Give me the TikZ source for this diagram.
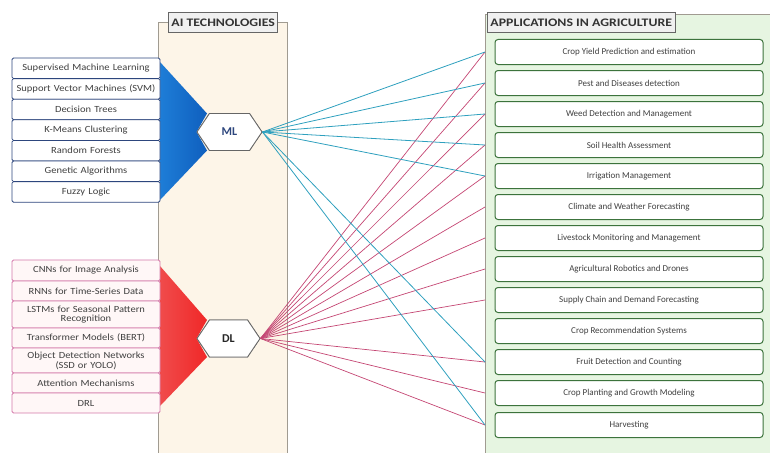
\documentclass[tikz,border=0pt]{standalone}
\usepackage{fontspec}
\setmainfont{Carlito}
\newfontfamily\wideface[FakeStretch=1.12]{Carlito}
\newfontfamily\tabface[FakeStretch=1.2]{Carlito}
\usepackage{tikz}
\usetikzlibrary{positioning,shapes.symbols}

\definecolor{mlnavy}{RGB}{45,70,125}
\definecolor{dlpink}{RGB}{212,120,170}
\definecolor{mlline}{RGB}{46,160,190}
\definecolor{dlline}{RGB}{196,70,115}
\definecolor{aibeige}{RGB}{253,245,232}
\definecolor{agrgreen}{RGB}{230,245,225}
\definecolor{boxgreen}{RGB}{60,115,60}
\definecolor{panelgray}{RGB}{160,155,145}
\definecolor{mlfunnel}{RGB}{30,125,215}
\definecolor{mlfunneldark}{RGB}{15,95,190}
\definecolor{dlfunnel}{RGB}{240,75,75}
\definecolor{dlfunneldark}{RGB}{240,40,40}

\tikzset{
  mlbox/.style={draw=mlnavy, fill=white, rounded corners=1.5pt, line width=0.8pt, minimum width=148pt, text width=147pt, align=center, inner sep=0.5pt, outer sep=0pt, font=\wideface\fontsize{9.4}{9.8}\selectfont, text=black!75},
  dlbox/.style={draw=dlpink, fill=pink!12, rounded corners=1.5pt, line width=0.8pt, minimum width=148pt, text width=147pt, align=center, inner sep=0.5pt, outer sep=0pt, font=\wideface\fontsize{9.4}{9.8}\selectfont, text=black!75},
  appbox/.style={draw=boxgreen, fill=white, rounded corners=3pt, line width=1pt, minimum width=268pt, minimum height=25pt, font=\fontsize{9}{10}\selectfont, text=black!75},
  hexnode/.style={signal, signal to=west and east, signal pointer angle=112, draw=black!60, fill=white, line width=0.8pt, minimum height=37pt, inner sep=0pt, font=\fontsize{12}{13}\selectfont\bfseries},
  tab/.style={draw=black!60, line width=0.9pt, fill=white!94!black, minimum height=20pt, inner sep=3pt, anchor=west, font=\tabface\fontsize{11.5}{12}\selectfont\bfseries, text=black!80},
  mlwire/.style={mlline, line width=0.8pt},
  dlwire/.style={dlline, line width=0.7pt}
}

\begin{document}
\begin{tikzpicture}[x=1pt,y=-1pt]
\useasboundingbox (0,0) rectangle (770,452);

% panels
\node[draw=panelgray, fill=aibeige, minimum width=129pt, minimum height=432pt, inner sep=0pt, outer sep=0pt] (aipanel) at (222.5,238) {};
\node[draw=panelgray, fill=agrgreen, minimum width=290pt, minimum height=440pt, inner sep=0pt, outer sep=0pt] (agrpanel) at (630,234) {};
\node[tab] (aititle) at (168,22.5) {AI TECHNOLOGIES};
\node[tab] (agrtitle) at (487,22.5) {APPLICATIONS IN AGRICULTURE};

% applications
\node[appbox] (app1) at (629,52) {Crop Yield Prediction and estimation};
\node[appbox] (app2) at (629,83) {Pest and Diseases detection};
\node[appbox] (app3) at (629,114) {Weed Detection and Management};
\node[appbox] (app4) at (629,145) {Soil Health Assessment};
\node[appbox] (app5) at (629,176) {Irrigation Management};
\node[appbox] (app6) at (629,207) {Climate and Weather Forecasting};
\node[appbox] (app7) at (629,238) {Livestock Monitoring and Management};
\node[appbox] (app8) at (629,269) {Agricultural Robotics and Drones};
\node[appbox] (app9) at (629,300) {Supply Chain and Demand Forecasting};
\node[appbox] (app10) at (629,331) {Crop Recommendation Systems};
\node[appbox] (app11) at (629,362) {Fruit Detection and Counting};
\node[appbox] (app12) at (629,393) {Crop Planting and Growth Modeling};
\node[appbox] (app13) at (629,425) {Harvesting};

% hexagons
\node[hexnode, minimum width=65pt, text=mlnavy] (ml) at (229.5,132) {ML};
\node[hexnode, minimum width=63pt, text=black!85] (dl) at (228.5,338.5) {DL};

% funnels
\shade[left color=mlfunnel, right color=mlfunneldark] (160,62) -- (207,113.5) -- (ml.west) -- (207,150.5) -- (160,200) -- cycle;
\shade[left color=dlfunnel, right color=dlfunneldark] (160,266) -- (207,320) -- (dl.west) -- (207,357) -- (160,406) -- cycle;
\node[hexnode, minimum width=65pt, text=mlnavy] at (ml) {ML};
\node[hexnode, minimum width=63pt, text=black!85] at (dl) {DL};

% ML methods
\node[mlbox, minimum height=20.6pt] (m1) at (86,68.3) {Supervised Machine Learning};
\node[mlbox, minimum height=20.6pt, below=0pt of m1] (m2) {Support Vector Machines (SVM)};
\node[mlbox, minimum height=20.6pt, below=0pt of m2] (m3) {Decision Trees};
\node[mlbox, minimum height=20.6pt, below=0pt of m3] (m4) {K-Means Clustering};
\node[mlbox, minimum height=20.6pt, below=0pt of m4] (m5) {Random Forests};
\node[mlbox, minimum height=20.6pt, below=0pt of m5] (m6) {Genetic Algorithms};
\node[mlbox, minimum height=20.6pt, below=0pt of m6] (m7) {Fuzzy Logic};

% DL methods
\node[dlbox, minimum height=21pt] (d1) at (86,270.5) {CNNs for Image Analysis};
\node[dlbox, minimum height=20pt, below=0pt of d1] (d2) {RNNs for Time-Series Data};
\node[dlbox, minimum height=27pt, below=0pt of d2] (d3) {LSTMs for Seasonal Pattern\\Recognition};
\node[dlbox, minimum height=20pt, below=0pt of d3] (d4) {Transformer Models (BERT)};
\node[dlbox, minimum height=25pt, below=0pt of d4] (d5) {Object Detection Networks\\(SSD or YOLO)};
\node[dlbox, minimum height=20pt, below=0pt of d5] (d6) {Attention Mechanisms};
\node[dlbox, minimum height=20pt, below=0pt of d6] (d7) {DRL};

% DL links
\draw[dlwire] (dl.east) -- (agrpanel.west |- app1);
\draw[dlwire] (dl.east) -- (agrpanel.west |- app2);
\draw[dlwire] (dl.east) -- (agrpanel.west |- app3);
\draw[dlwire] (dl.east) -- (agrpanel.west |- app4);
\draw[dlwire] (dl.east) -- (agrpanel.west |- app5);
\draw[dlwire] (dl.east) -- (agrpanel.west |- app6);
\draw[dlwire] (dl.east) -- (agrpanel.west |- app7);
\draw[dlwire] (dl.east) -- (agrpanel.west |- app8);
\draw[dlwire] (dl.east) -- (agrpanel.west |- app9);
\draw[dlwire] (dl.east) -- (agrpanel.west |- app11);
\draw[dlwire] (dl.east) -- (agrpanel.west |- app12);
\draw[dlwire] (dl.east) -- (agrpanel.west |- app13);

% ML links
\draw[mlwire] (ml.east) -- (agrpanel.west |- app1);
\draw[mlwire] (ml.east) -- (agrpanel.west |- app2);
\draw[mlwire] (ml.east) -- (agrpanel.west |- app3);
\draw[mlwire] (ml.east) -- (agrpanel.west |- app4);
\draw[mlwire] (ml.east) -- (agrpanel.west |- app5);
\draw[mlwire] (ml.east) -- (agrpanel.west |- app11);
\draw[mlwire] (ml.east) -- (agrpanel.west |- app13);
\end{tikzpicture}
\end{document}
